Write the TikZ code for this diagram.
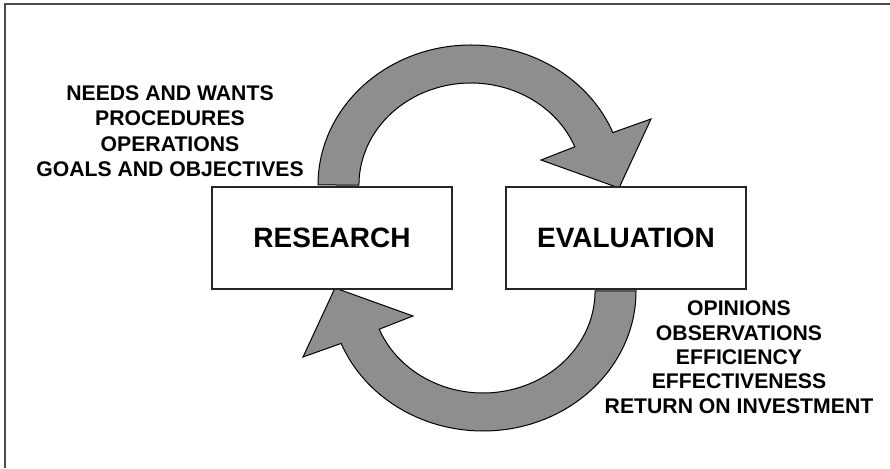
\documentclass[tikz,border=0pt]{standalone}
\usepackage{fontspec}
\setmainfont{Liberation Sans}
\definecolor{arrowgray}{RGB}{142,142,142}
\begin{document}
\begin{tikzpicture}[x=1pt,y=1pt,
  frameline/.style={draw=black!70, line width=1.6pt},
  stagebox/.style={draw=black!85, line width=1.1pt, fill=white, minimum width=240pt, minimum height=102pt, inner sep=0pt, font=\fontsize{28}{32}\selectfont\bfseries},
  cyclearrow/.style={draw=black, line width=1pt, fill=arrowgray, line join=miter},
  listtext/.style={anchor=base, inner sep=0pt, font=\fontsize{21.2}{25}\selectfont\bfseries}]
\useasboundingbox (0,0) rectangle (890,468);
\draw[frameline] (5,0) -- (5,464) -- (890,464);
% top cycle arrow (research -> evaluation)
\path[cyclearrow] (318,283) arc[start angle=180,end angle=22,x radius=153,y radius=140]
  -- (651,349) -- (619,280) -- (541,308) -- (574.8,321.2)
  arc[start angle=22,end angle=180,x radius=112,y radius=102] -- cycle;
% bottom cycle arrow (evaluation -> research)
\begin{scope}[rotate around={180:(477,230)}]
\path[cyclearrow] (318,283) arc[start angle=180,end angle=22,x radius=153,y radius=140]
  -- (651,349) -- (619,280) -- (541,308) -- (574.8,321.2)
  arc[start angle=22,end angle=180,x radius=112,y radius=102] -- cycle;
\end{scope}
\node[stagebox] (research) at (332,230) {RESEARCH};
\node[stagebox] (evaluation) at (626,230) {EVALUATION};
\node[listtext] (l1) at (170,367.3) {NEEDS AND WANTS};
\node[listtext] (l2) at (170,342) {PROCEDURES};
\node[listtext] (l3) at (170,316.7) {OPERATIONS};
\node[listtext] (l4) at (170,291.3) {GOALS AND OBJECTIVES};
\node[listtext] (r1) at (739,152) {OPINIONS};
\node[listtext] (r2) at (739,127.7) {OBSERVATIONS};
\node[listtext] (r3) at (739,103.4) {EFFICIENCY};
\node[listtext] (r4) at (739,79) {EFFECTIVENESS};
\node[listtext] (r5) at (739,54.7) {RETURN ON INVESTMENT};
\end{tikzpicture}
\end{document}
